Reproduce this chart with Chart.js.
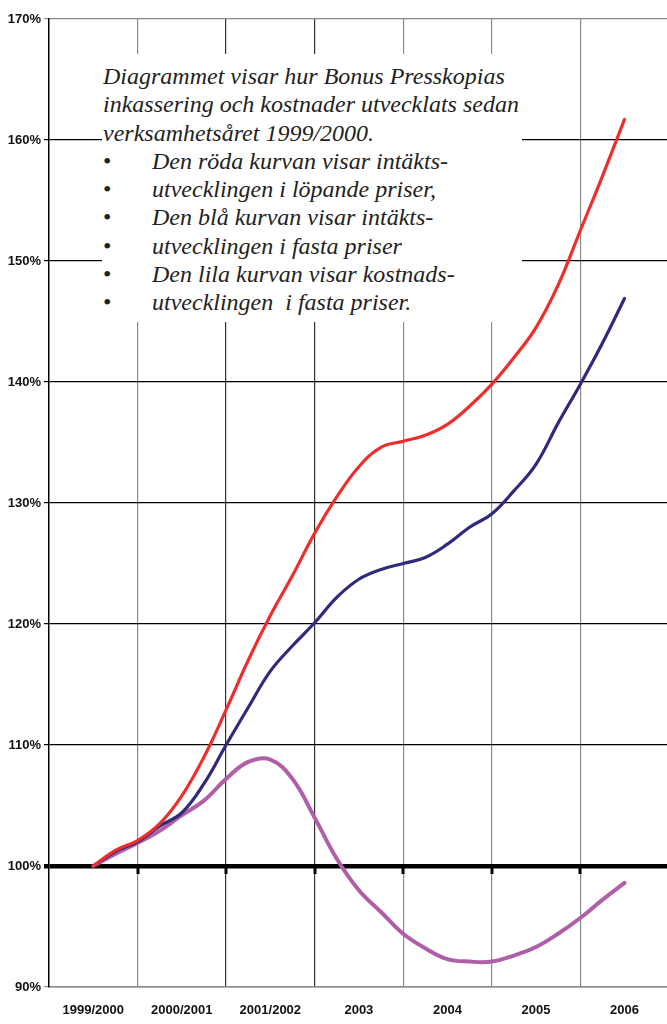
<!DOCTYPE html>
<html>
<head>
<meta charset="utf-8">
<script src="https://cdn.jsdelivr.net/npm/chart.js@4"></script>
<style>
  html, body { margin: 0; padding: 0; background: #fff; }
  #wrap { position: relative; width: 667px; height: 1024px; }
  #note {
    position: absolute; left: 102px; top: 54px; width: 420px; height: 268px;
    background: #fff; box-sizing: border-box; padding: 8px 0 0 1px;
    font-family: 'Liberation Serif', 'Times New Roman', 'DejaVu Serif', serif; font-style: italic;
    font-size: 24px; line-height: 28.3px; color: #222;
  }
  #note .b { display: flex; }
  #note .b span:first-child { width: 49px; font-style: normal; }
</style>
</head>
<body>
<div id="wrap">
  <canvas id="chart" width="667" height="1024"></canvas>
  <div id="note">
    <div>Diagrammet visar hur Bonus Presskopias</div>
    <div>inkassering och kostnader utvecklats sedan</div>
    <div>verksamhetsåret 1999/2000.</div>
    <div class="b"><span>•</span><span>Den röda kurvan visar intäkts-</span></div>
    <div class="b"><span>•</span><span>utvecklingen i löpande priser,</span></div>
    <div class="b"><span>•</span><span>Den blå kurvan visar intäkts-</span></div>
    <div class="b"><span>•</span><span>utvecklingen i fasta priser</span></div>
    <div class="b"><span>•</span><span>Den lila kurvan visar kostnads-</span></div>
    <div class="b"><span>•</span><span>utvecklingen&nbsp; i fasta priser.</span></div>
  </div>
</div>
<script>
const categories = ['1999/2000', '2000/2001', '2001/2002', '2003', '2004', '2005', '2006'];

// positions along the year axis where the curves were read (0 = 1999/2000)
const positions = [0, 0.25, 0.5, 0.75, 1, 1.25, 1.5, 1.75, 2, 2.25, 2.5, 2.75, 3,
                   3.25, 3.5, 3.75, 4, 4.25, 4.5, 4.75, 5, 5.25, 5.5, 5.75, 6];

const revenueCurrent = [100, 101.3, 102.1, 103.5, 105.8, 109, 112.9, 117, 120.7, 124, 127.5, 130.5, 133,
                        134.6, 135.1, 135.6, 136.5, 138, 139.8, 142, 144.5, 148, 152.5, 157, 161.7];
const revenueFixed = [100, 101.2, 102, 103.3, 104.4, 106.8, 110, 113.1, 116.1, 118.2, 120.1, 122.2, 123.7,
                      124.5, 125, 125.5, 126.6, 128, 129.1, 131, 133.2, 136.6, 139.8, 143.2, 146.9];
const costsFixed = [100, 101, 101.9, 102.9, 104.2, 105.4, 107.2, 108.6, 108.8, 107.2, 104, 100.6, 98,
                    96.2, 94.4, 93.2, 92.3, 92.1, 92.1, 92.6, 93.3, 94.4, 95.7, 97.2, 98.6];

const yTicks = [90, 100, 110, 120, 130, 140, 150, 160, 170];
const xGridTicks = [-0.5, 0.5, 1.5, 2.5, 3.5, 4.5, 5.5];

const labelFont = "'Liberation Sans', Arial, sans-serif";

function pts(arr) { return positions.map((p, i) => ({ x: p, y: arr[i] })); }

// little notches under the 100% line
const baseNotches = {
  id: 'baseNotches',
  afterDatasetsDraw(chart) {
    const c = chart.ctx, xs = chart.scales.x, ys = chart.scales.y;
    const y0 = ys.getPixelForValue(100);
    c.save();
    c.fillStyle = '#000';
    xGridTicks.slice(1).forEach(v => {
      const px = Math.round(xs.getPixelForValue(v));
      c.fillRect(px - 1.5, y0, 3, 8);
    });
    c.restore();
  }
};

new Chart(document.getElementById('chart'), {
  type: 'line',
  data: {
    datasets: [
      { label: 'Intäkter, löpande priser', data: pts(revenueCurrent), borderColor: '#ee2e2a', borderWidth: 3.2 },
      { label: 'Intäkter, fasta priser', data: pts(revenueFixed), borderColor: '#2f2a7c', borderWidth: 3.2 },
      { label: 'Kostnader, fasta priser', data: pts(costsFixed), borderColor: '#b05ea8', borderWidth: 4 }
    ]
  },
  options: {
    responsive: false,
    animation: false,
    layout: { padding: { top: 19, right: 0, bottom: 0, left: 0 } },
    elements: { point: { radius: 0 }, line: { tension: 0.4, borderCapStyle: 'round' } },
    plugins: { legend: { display: false }, tooltip: { enabled: false } },
    scales: {
      x: {
        type: 'linear',
        min: -0.5,
        max: 6.48,
        afterBuildTicks(scale) {
          const t = [];
          xGridTicks.forEach(v => t.push({ value: v }));
          categories.forEach((c, i) => t.push({ value: i }));
          t.sort((a, b) => a.value - b.value);
          scale.ticks = t;
        },
        afterFit(scale) { scale.height = 37; },
        border: { color: '#888', width: 1.5 },
        grid: {
          drawTicks: false,
          color(ctx) {
            const v = ctx.tick ? ctx.tick.value : null;
            if (v === 1.5 || v === 2.5) return '#333';
            if (v === 0.5 || v === 3.5 || v === 4.5 || v === 5.5) return '#8a8a8a';
            return 'rgba(0,0,0,0)';
          },
          lineWidth: 1.2
        },
        ticks: {
          autoSkip: false,
          maxRotation: 0,
          padding: 16,
          color: '#111',
          font: { family: labelFont, size: 13, weight: 'bold' },
          callback(v) { return Number.isInteger(v) ? categories[v] : ''; }
        }
      },
      y: {
        min: 90,
        max: 170,
        afterBuildTicks(scale) { scale.ticks = yTicks.map(v => ({ value: v })); },
        afterFit(scale) { scale.width = 49; },
        border: { color: '#000', width: 1.5 },
        grid: {
          tickLength: 5,
          color(ctx) {
            const v = ctx.tick ? ctx.tick.value : null;
            if (v === 170 || v === 90) return '#8a8a8a';
            return '#000';
          },
          lineWidth(ctx) { return ctx.tick && ctx.tick.value === 100 ? 4.5 : 1.2; }
        },
        ticks: {
          padding: 3,
          color: '#111',
          font: { family: labelFont, size: 13, weight: 'bold' },
          callback(v) { return v + '%'; }
        }
      }
    }
  },
  plugins: [baseNotches]
});
</script>
</body>
</html>
